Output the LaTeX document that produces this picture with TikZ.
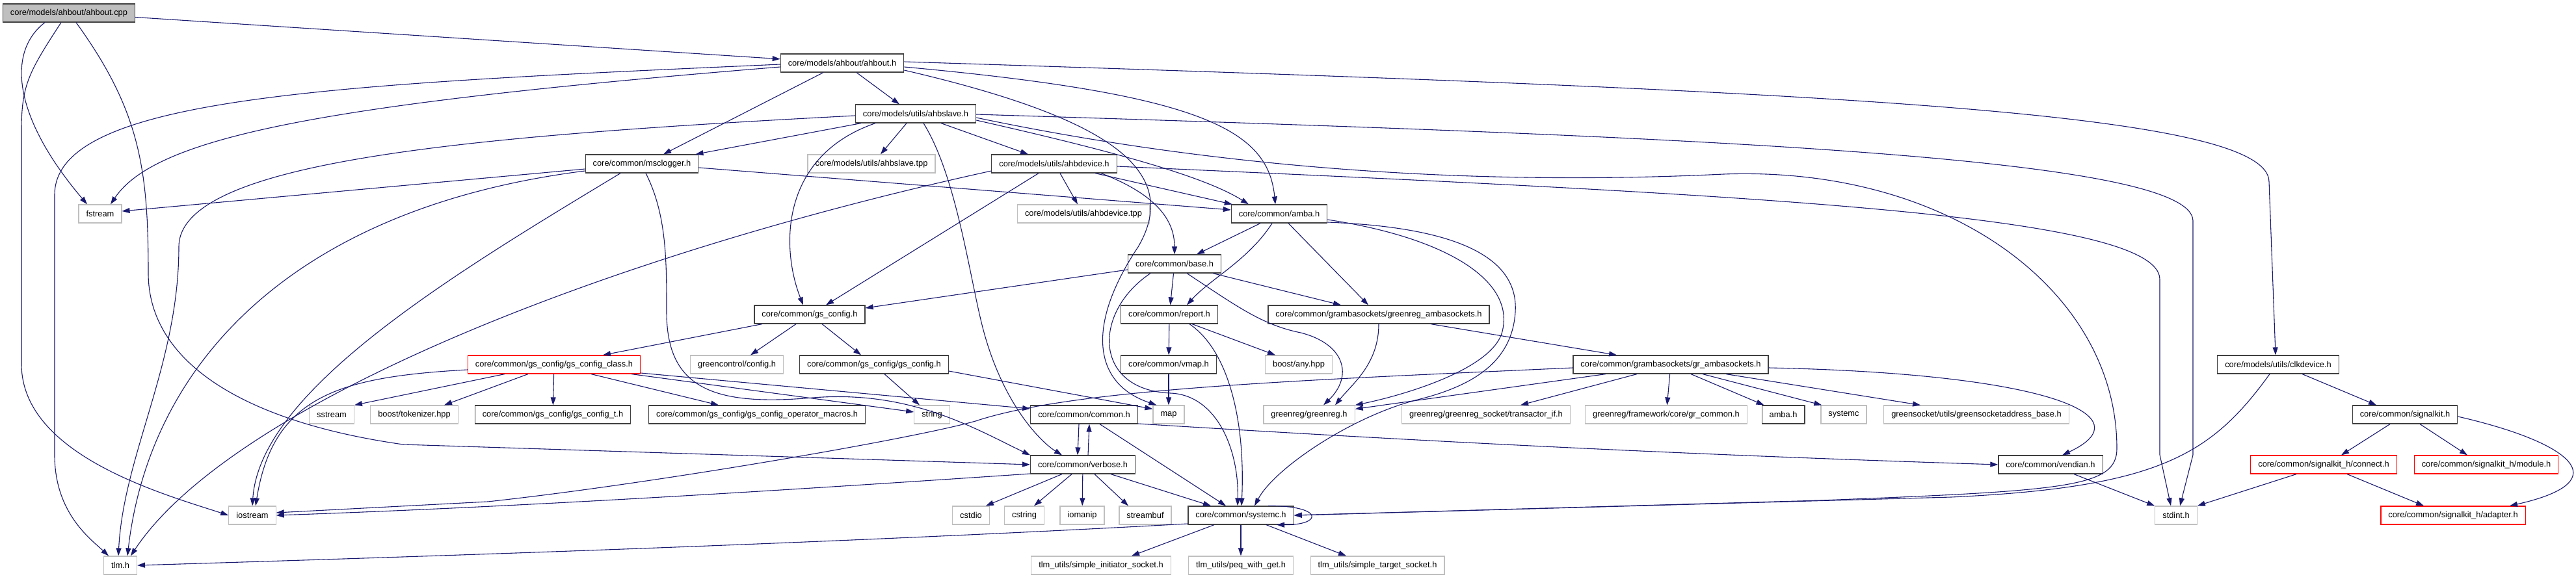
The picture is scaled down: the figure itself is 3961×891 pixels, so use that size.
\documentclass[tikz,border=0pt]{standalone}
\usepackage{fontspec}
\newfontfamily\helv{Liberation Sans}
\usetikzlibrary{arrows.meta}

\definecolor{edgeblue}{HTML}{191970}
\definecolor{extgray}{HTML}{BFBFBF}

\tikzset{
  hdr/.style={draw=black!75, line width=1.2pt, minimum height=28pt,
    inner xsep=11.5pt, inner ysep=0pt, font={\helv\fontsize{12.85pt}{15pt}\selectfont}},
  ext/.style={hdr, draw=extgray},
  cut/.style={hdr, draw=red},
  root/.style={hdr, fill=extgray},
  inc/.style={draw=edgeblue, line width=1.1pt, -{Triangle[length=12pt,width=8pt]}},
}

\begin{document}
\begin{tikzpicture}[x=1pt, y=-1pt]
  \useasboundingbox (0,0) rectangle (3961,891);

  %% rank 0 - 5
  \node[root] (cpp) at (106,20) {core/models/ahbout/ahbout.cpp};
  \node[hdr] (ahbouth) at (1295,97) {core/models/ahbout/ahbout.h};
  \node[hdr] (ahbslave) at (1408,175) {core/models/utils/ahbslave.h};
  \node[hdr] (msclogger) at (987,252) {core/common/msclogger.h};
  \node[ext] (slavetpp) at (1340,252) {core/models/utils/ahbslave.tpp};
  \node[hdr] (ahbdevice) at (1621,252) {core/models/utils/ahbdevice.h};
  \node[ext] (fstream) at (154,329) {fstream};
  \node[ext] (devicetpp) at (1666,329) {core/models/utils/ahbdevice.tpp};
  \node[hdr] (amba) at (1967,329) {core/common/amba.h};
  \node[hdr] (base) at (1806,406) {core/common/base.h};

  %% rank 6 - 7
  \node[hdr] (gsconfig) at (1245,484) {core/common/gs\_config.h};
  \node[hdr] (report) at (1798,484) {core/common/report.h};
  \node[hdr] (grambagreen) at (2120,484) {core/common/grambasockets/greenreg\_ambasockets.h};
  \node[cut] (gsclass) at (852,561) {core/common/gs\_config/gs\_config\_class.h};
  \node[ext] (gcconfig) at (1133,561) {greencontrol/config.h};
  \node[hdr] (gsgs) at (1344,561) {core/common/gs\_config/gs\_config.h};
  \node[hdr] (vmap) at (1797,561) {core/common/vmap.h};
  \node[ext] (anyhpp) at (1997,561) {boost/any.hpp};
  \node[hdr] (grambasock) at (2569,561) {core/common/grambasockets/gr\_ambasockets.h};
  \node[hdr] (clkdevice) at (3503,561) {core/models/utils/clkdevice.h};

  %% rank 8
  \node[ext] (sstream) at (510,638) {sstream};
  \node[ext] (tokenizer) at (637,638) {boost/tokenizer.hpp};
  \node[hdr] (gst) at (850,638) {core/common/gs\_config/gs\_config\_t.h};
  \node[hdr] (gsmacros) at (1164,638) {core/common/gs\_config/gs\_config\_operator\_macros.h};
  \node[ext] (string) at (1433,638) {string};
  \node[hdr] (common) at (1667,638) {core/common/common.h};
  \node[ext] (map) at (1797,638) {map};
  \node[ext] (greenreg) at (2013,638) {greenreg/greenreg.h};
  \node[ext] (transactor) at (2285,638) {greenreg/greenreg\_socket/transactor\_if.h};
  \node[ext] (grcommon) at (2562,638) {greenreg/framework/core/gr\_common.h};
  \node[hdr] (ambashort) at (2742,638) {amba.h};
  \node[ext] (systemcext) at (2835,638) {systemc};
  \node[ext] (gsaddress) at (3039,638) {greensocket/utils/greensocketaddress\_base.h};
  \node[hdr] (signalkit) at (3698,638) {core/common/signalkit.h};

  %% rank 9 - 11
  \node[hdr] (verbose) at (1665,715) {core/common/verbose.h};
  \node[hdr] (vendian) at (3153,715) {core/common/vendian.h};
  \node[cut] (connect) at (3573,715) {core/common/signalkit\_h/connect.h};
  \node[cut] (module) at (3823,715) {core/common/signalkit\_h/module.h};
  \node[ext] (iostream) at (388,793) {iostream};
  \node[ext] (cstdio) at (1493,793) {cstdio};
  \node[ext] (cstring) at (1575,793) {cstring};
  \node[ext] (iomanip) at (1664,793) {iomanip};
  \node[ext] (streambuf) at (1761,793) {streambuf};
  \node[hdr] (systemch) at (1908,793) {core/common/systemc.h};
  \node[ext] (stdint) at (3346,793) {stdint.h};
  \node[cut] (adapter) at (3772,793) {core/common/signalkit\_h/adapter.h};
  \node[ext] (tlm) at (185,870) {tlm.h};
  \node[ext] (initiator) at (1693,870) {tlm\_utils/simple\_initiator\_socket.h};
  \node[ext] (peq) at (1908,870) {tlm\_utils/peq\_with\_get.h};
  \node[ext] (target) at (2118,870) {tlm\_utils/simple\_target\_socket.h};

  %% straight includes
  \foreach \from/\to in {report/vmap, vmap/map, base/report, gsclass/gst,
      verbose/iomanip, grambasock/grcommon, systemch/peq}
    \draw[inc] (\from) -- (\to);

  %% ahbout.cpp
  \draw[inc] (cpp) -- (ahbouth);
  \draw[inc] ([xshift=-37pt]cpp.south) .. controls (10,80) and (20,180) .. ([xshift=-20pt]fstream.north);
  \draw[inc] ([xshift=-12pt]cpp.south) .. controls (45,110) and (33,130) .. (33,200) -- (33,560)
    .. controls (33,700) and (250,760) .. (iostream.west);
  \draw[inc] ([xshift=11pt]cpp.south) .. controls (215,170) and (228,260) .. (228,420)
    .. controls (228,560) and (380,650) .. (620,684) -- (verbose.west);

  %% ahbout.h
  \draw[inc] ([yshift=-6pt]ahbouth.west) .. controls (500,160) and (240,210) .. ([xshift=16pt]fstream.north);
  \draw[inc] ([yshift=-2pt]ahbouth.west) .. controls (500,130) and (84,150) .. (84,300) -- (84,700)
    .. controls (84,790) and (140,830) .. ([xshift=-18pt]tlm.north);
  \draw[inc] ([xshift=-29pt]ahbouth.south) -- ([xshift=33pt]msclogger.north);
  \draw[inc] ([xshift=22pt]ahbouth.south) -- ([xshift=-25pt]ahbslave.north);
  \draw[inc] ([yshift=-6pt]ahbouth.east) .. controls (1850,145) and (1950,200) .. ([xshift=-6pt]amba.north);
  \draw[inc] ([yshift=-11pt]ahbouth.east) .. controls (1700,180) and (1820,260) .. (1750,380)
    .. controls (1670,500) and (1680,590) .. ([xshift=6pt]map.north west);
  \draw[inc] ([yshift=2pt]ahbouth.east) .. controls (2800,140) and (3489,170) .. (3489,280)
    -- ([xshift=-4pt]clkdevice.north);

  %% ahbslave.h
  \draw[inc] ([xshift=-84pt]ahbslave.south) -- ([xshift=-5pt]msclogger.north east);
  \draw[inc] ([yshift=-3pt]ahbslave.west) .. controls (700,210) and (275,250) .. (275,380)
    .. controls (275,560) and (190,700) .. ([xshift=-3pt]tlm.north);
  \draw[inc] ([xshift=-62pt]ahbslave.south) .. controls (1200,240) and (1200,380) .. ([xshift=-10pt]gsconfig.north);
  \draw[inc] ([xshift=-14pt]ahbslave.south) -- ([xshift=14pt]slavetpp.north);
  \draw[inc] ([xshift=39pt]ahbslave.south) -- ([xshift=-40pt]ahbdevice.north);
  \draw[inc] ([xshift=12pt]ahbslave.south) .. controls (1470,270) and (1490,420) .. (1510,500)
    .. controls (1540,620) and (1600,680) .. ([xshift=-32pt]verbose.north);
  \draw[inc] ([yshift=-10pt]ahbslave.east) .. controls (1700,230) and (1850,270) .. ([xshift=-47pt]amba.north);
  \draw[inc] ([yshift=-6pt]ahbslave.east) .. controls (1900,265) and (2300,285) .. (2650,268)
    .. controls (3000,255) and (3255,450) .. (3255,690)
    .. controls (3255,750) and (3180,755) .. (2800,770) -- (systemch.east);
  \draw[inc] ([yshift=-1pt]ahbslave.east) .. controls (2600,210) and (3372,240) .. (3372,340)
    -- (3372,700) -- ([xshift=6pt]stdint.north);

  %% msclogger.h
  \draw[inc] ([yshift=-8pt]msclogger.west) -- ([yshift=4pt]fstream.east);
  \draw[inc] ([yshift=-11pt]msclogger.west) .. controls (450,320) and (230,560) .. ([xshift=11pt]tlm.north);
  \draw[inc] ([xshift=-33pt]msclogger.south) .. controls (700,420) and (400,600) .. (iostream.north);
  \draw[inc] ([xshift=6pt]msclogger.south) .. controls (1025,330) and (1025,400) .. (1025,480)
    .. controls (1025,600) and (1100,625) .. (1250,612)
    .. controls (1400,600) and (1500,660) .. (verbose.north west);
  \draw[inc] ([yshift=-6pt]msclogger.east) -- ([yshift=6pt]amba.west);

  %% ahbdevice.h
  \draw[inc] ([yshift=-11pt]ahbdevice.west) .. controls (900,400) and (350,630) .. ([xshift=16pt]tlm.north);
  \draw[inc] ([xshift=-24pt]ahbdevice.south) -- ([xshift=25pt]gsconfig.north);
  \draw[inc] ([xshift=9pt]ahbdevice.south) -- ([xshift=-9pt]devicetpp.north);
  \draw[inc] ([xshift=63pt]ahbdevice.south) -- ([xshift=2pt]amba.north west);
  \draw[inc] ([xshift=72pt]ahbdevice.south) .. controls (1780,300) and (1806,340) .. (base.north);
  \draw[inc] ([yshift=-4pt]ahbdevice.east) .. controls (2700,300) and (3321,330) .. (3321,430)
    -- (3321,700) -- ([xshift=-8pt]stdint.north);

  %% amba.h
  \draw[inc] ([xshift=-29pt]amba.south) -- ([xshift=34pt]base.north);
  \draw[inc] ([xshift=-11pt]amba.south) .. controls (1920,400) and (1860,430) .. ([xshift=27pt]report.north);
  \draw[inc] ([xshift=14pt]amba.south) -- ([xshift=-16pt]grambagreen.north);
  \draw[inc] ([yshift=-9pt]amba.east) .. controls (2220,365) and (2330,430) .. (2310,510)
    .. controls (2295,570) and (2150,610) .. (greenreg.north east);
  \draw[inc] ([yshift=-13pt]amba.east) .. controls (2250,350) and (2335,400) .. (2330,480)
    .. controls (2325,560) and (2260,595) .. (2180,615)
    .. controls (2080,640) and (1960,720) .. ([xshift=21pt]systemch.north);

  %% base.h
  \draw[inc] ([yshift=-9pt]base.west) -- ([yshift=10pt]gsconfig.east);
  \draw[inc] ([xshift=19pt]base.south) .. controls (1900,470) and (1940,500) .. (2000,512)
    .. controls (2070,530) and (2080,580) .. ([xshift=22pt]greenreg.north);
  \draw[inc] ([xshift=59pt]base.south) -- ([xshift=-58pt]grambagreen.north);
  \draw[inc] ([xshift=-37pt]base.south) .. controls (1680,480) and (1680,600) .. (1800,605)
    .. controls (1870,608) and (1905,690) .. ([xshift=-5pt]systemch.north);

  %% report.h
  \draw[inc] ([xshift=35pt]report.south) -- ([xshift=-36pt]anyhpp.north);
  \draw[inc] ([xshift=31pt]report.south) .. controls (1890,540) and (1915,650) .. ([xshift=1pt]systemch.north);

  %% gs_config
  \draw[inc] ([xshift=-73pt]gsconfig.south) -- ([xshift=75pt]gsclass.north);
  \draw[inc] ([xshift=-21pt]gsconfig.south) -- ([xshift=21pt]gcconfig.north);
  \draw[inc] ([xshift=19pt]gsconfig.south) -- ([xshift=-20pt]gsgs.north);
  \draw[inc] ([yshift=-8pt]gsclass.west) .. controls (520,580) and (420,610) .. ([xshift=5pt]iostream.north);
  \draw[inc] ([xshift=-76pt]gsclass.south) -- (sstream.north east);
  \draw[inc] ([xshift=-40pt]gsclass.south) -- ([xshift=46pt]tokenizer.north);
  \draw[inc] ([xshift=57pt]gsclass.south) -- ([xshift=-59pt]gsmacros.north);
  \draw[inc] ([yshift=-13pt]gsclass.east) -- ([yshift=9pt]common.west);
  \draw[inc] ([xshift=119pt]gsclass.south) -- ([yshift=4pt]string.west);
  \draw[inc] ([xshift=16pt]gsgs.south) -- ([xshift=-19pt]string.north);
  \draw[inc] ([yshift=-10pt]gsgs.east) -- ([yshift=-6pt]map.north west);

  %% common.h, verbose.h
  \draw[inc] ([xshift=-8pt]common.south) -- ([xshift=-8pt]verbose.north);
  \draw[inc] ([xshift=8pt]verbose.north) -- ([xshift=8pt]common.south);
  \draw[inc] ([xshift=24pt]common.south) -- ([xshift=-23pt]systemch.north);
  \draw[inc] ([yshift=-14pt]common.east) .. controls (2200,680) and (2600,700) .. (vendian.west);
  \draw[inc] ([xshift=-32pt]verbose.south) -- ([xshift=-6pt]cstdio.north east);
  \draw[inc] ([xshift=-17pt]verbose.south) -- ([xshift=15pt]cstring.north);
  \draw[inc] ([xshift=18pt]verbose.south) -- ([xshift=-26pt]streambuf.north);
  \draw[inc] ([xshift=43pt]verbose.south) -- ([xshift=-46pt]systemch.north);
  \draw[inc] ([yshift=-14pt]verbose.west) .. controls (1200,755) and (800,780) .. (iostream.east);

  %% grambasockets
  \draw[inc] (grambagreen.south) .. controls (2120,560) and (2080,590) .. ([xshift=40pt]greenreg.north);
  \draw[inc] ([xshift=80pt]grambagreen.south) -- ([xshift=-83pt]grambasock.north);
  \draw[inc] ([yshift=-5pt]grambasock.west) .. controls (2000,585) and (1650,598) .. (1500,648)
    .. controls (1400,676) and (1000,745) .. (750,772) -- ([yshift=4pt]iostream.east);
  \draw[inc] ([xshift=-100pt]grambasock.south) -- ([yshift=-6pt]greenreg.north east);
  \draw[inc] ([xshift=-52pt]grambasock.south) -- ([xshift=53pt]transactor.north);
  \draw[inc] ([xshift=31pt]grambasock.south) -- ([xshift=4pt]ambashort.north west);
  \draw[inc] ([xshift=49pt]grambasock.south) -- ([xshift=2pt]systemcext.north west);
  \draw[inc] ([xshift=85pt]grambasock.south) -- ([xshift=-86pt]gsaddress.north);
  \draw[inc] ([yshift=-5pt]grambasock.east) .. controls (3150,575) and (3300,640) .. ([xshift=18pt]vendian.north);

  %% vendian.h, clkdevice.h, signalkit.h
  \draw[inc] ([xshift=36pt]vendian.south) -- (stdint.north west);
  \draw[inc] ([xshift=37pt]clkdevice.south) -- ([xshift=-44pt]signalkit.north);
  \draw[inc] ([xshift=-13pt]clkdevice.south) .. controls (3400,700) and (3320,750) .. (3000,765)
    -- (systemch.east);
  \draw[inc] ([xshift=-23pt]signalkit.south) -- ([xshift=27pt]connect.north);
  \draw[inc] ([xshift=23pt]signalkit.south) -- ([xshift=-29pt]module.north);
  \draw[inc] ([yshift=-3pt]signalkit.east) .. controls (3950,680) and (4030,740) .. ([xshift=87pt]adapter.north);
  \draw[inc] ([xshift=-42pt]connect.south) -- (stdint.north east);
  \draw[inc] ([xshift=36pt]connect.south) -- ([xshift=-45pt]adapter.north);

  %% systemc.h
  \draw[inc] ([xshift=42pt]systemch.north) .. controls (2035,778) and (2035,808) .. ([xshift=55pt]systemch.south);
  \draw[inc] ([xshift=-41pt]systemch.south) -- ([xshift=47pt]initiator.north);
  \draw[inc] ([xshift=39pt]systemch.south) -- ([xshift=-48pt]target.north);
  \draw[inc] ([yshift=-13pt]systemch.west) .. controls (1300,835) and (700,855) .. (tlm.east);
\end{tikzpicture}
\end{document}
